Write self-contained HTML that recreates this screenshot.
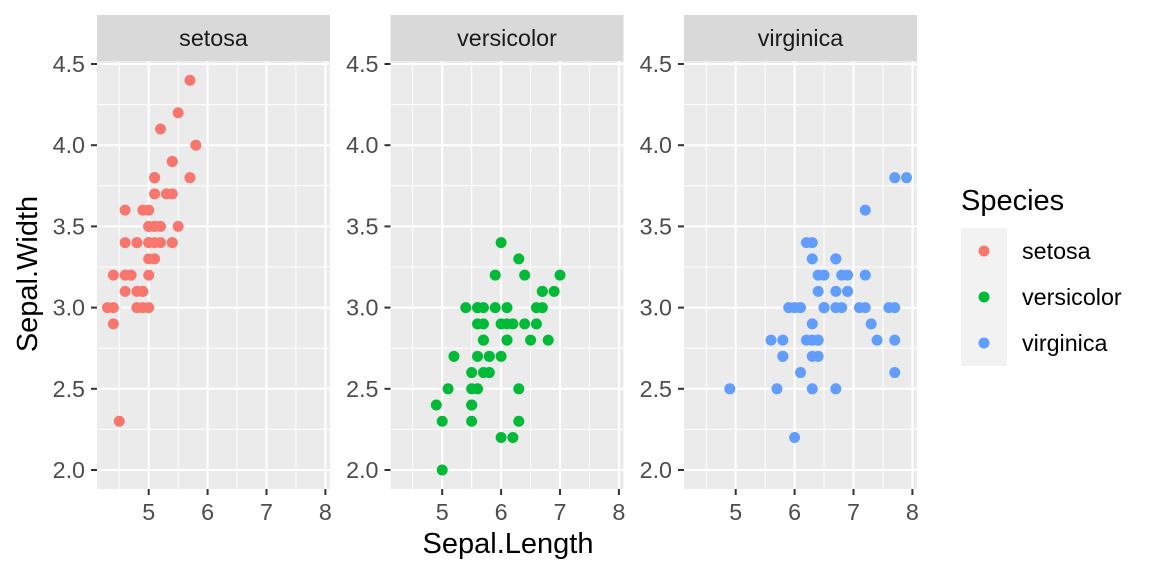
<!DOCTYPE html>
<html><head><meta charset="utf-8"><style>body{margin:0;background:#fff}svg{display:block}</style></head>
<body>
<svg id="s" width="1152" height="576" xmlns="http://www.w3.org/2000/svg" font-family="Liberation Sans, sans-serif">
<rect width="1152" height="576" fill="#fff"/>
<g id="g"></g>
<text x="508" y="553" font-size="29" text-anchor="middle" fill="#000">Sepal.Length</text>
<text transform="translate(37,274) rotate(-90)" font-size="29" text-anchor="middle" fill="#000">Sepal.Width</text>
<text x="961" y="210" font-size="29" fill="#000">Species</text>
<rect x="961" y="228" width="46" height="46" fill="#f2f2f2"/>
<rect x="961" y="274" width="46" height="46" fill="#f2f2f2"/>
<rect x="961" y="320" width="46" height="46" fill="#f2f2f2"/>
<circle cx="984" cy="251" r="5.5" fill="#F8766D"/>
<circle cx="984" cy="297" r="5.5" fill="#00BA38"/>
<circle cx="984" cy="343" r="5.5" fill="#619CFF"/>
<text x="1022" y="259" font-size="23.3" fill="#000">setosa</text>
<text x="1022" y="305" font-size="23.3" fill="#000">versicolor</text>
<text x="1022" y="351" font-size="23.3" fill="#000">virginica</text>
</svg>
<script>
var D=[
"5.1 3.5,4.9 3.0,4.7 3.2,4.6 3.1,5.0 3.6,5.4 3.9,4.6 3.4,5.0 3.4,4.4 2.9,4.9 3.1,5.4 3.7,4.8 3.4,4.8 3.0,4.3 3.0,5.8 4.0,5.7 4.4,5.4 3.9,5.1 3.5,5.7 3.8,5.1 3.8,5.4 3.4,5.1 3.7,4.6 3.6,5.1 3.3,4.8 3.4,5.0 3.0,5.0 3.4,5.2 3.5,5.2 3.4,4.7 3.2,4.8 3.1,5.4 3.4,5.2 4.1,5.5 4.2,4.9 3.1,5.0 3.2,5.5 3.5,4.9 3.6,4.4 3.0,5.1 3.4,5.0 3.5,4.5 2.3,4.4 3.2,5.0 3.5,5.1 3.8,4.8 3.0,5.1 3.8,4.6 3.2,5.3 3.7,5.0 3.3",
"7.0 3.2,6.4 3.2,6.9 3.1,5.5 2.3,6.5 2.8,5.7 2.8,6.3 3.3,4.9 2.4,6.6 2.9,5.2 2.7,5.0 2.0,5.9 3.0,6.0 2.2,6.1 2.9,5.6 2.9,6.7 3.1,5.6 3.0,5.8 2.7,6.2 2.2,5.6 2.5,5.9 3.2,6.1 2.8,6.3 2.5,6.1 2.8,6.4 2.9,6.6 3.0,6.8 2.8,6.7 3.0,6.0 2.9,5.7 2.6,5.5 2.4,5.5 2.4,5.8 2.7,6.0 2.7,5.4 3.0,6.0 3.4,6.7 3.1,6.3 2.3,5.6 3.0,5.5 2.5,5.5 2.6,6.1 3.0,5.8 2.6,5.0 2.3,5.6 2.7,5.7 3.0,5.7 2.9,6.2 2.9,5.1 2.5,5.7 2.8",
"6.3 3.3,5.8 2.7,7.1 3.0,6.3 2.9,6.5 3.0,7.6 3.0,4.9 2.5,7.3 2.9,6.7 2.5,7.2 3.6,6.5 3.2,6.4 2.7,6.8 3.0,5.7 2.5,5.8 2.8,6.4 3.2,6.5 3.0,7.7 3.8,7.7 2.6,6.0 2.2,6.9 3.2,5.6 2.8,7.7 2.8,6.3 2.7,6.7 3.3,7.2 3.2,6.2 2.8,6.1 3.0,6.4 2.8,7.2 3.0,7.4 2.8,7.9 3.8,6.4 2.8,6.3 2.8,6.1 2.6,7.7 3.0,6.3 3.4,6.4 3.1,6.0 3.0,6.9 3.1,6.7 3.1,6.9 3.1,5.8 2.7,6.8 3.2,6.7 3.3,6.7 3.0,6.3 2.5,6.5 3.0,6.2 3.4,5.9 3.0"];
var names=["setosa","versicolor","virginica"],cols=["#F8766D","#00BA38","#619CFF"],offs=[0,293.5,587];
var h="";
function Y(v){return 470-(v-2)*162.4;}
for(var p=0;p<3;p++){
 var o=offs[p];function X(v){return 148.7+o+(v-5)*58.9;}
 var L=97+o,R=330+o;
 h+='<rect x="'+L+'" y="61" width="'+(R-L)+'" height="428" fill="#ebebeb"/>';
 h+='<rect x="'+L+'" y="15" width="'+(R-L)+'" height="46" fill="#d9d9d9"/>';
 h+='<text x="'+((L+R)/2)+'" y="46" font-size="23.3" text-anchor="middle" fill="#1a1a1a">'+names[p]+'</text>';
 for(var v=2.25;v<4.6;v+=0.5)h+='<line x1="'+L+'" x2="'+R+'" y1="'+Y(v)+'" y2="'+Y(v)+'" stroke="#fff" stroke-width="1"/>';
 for(var v=4.5;v<8;v+=1)h+='<line y1="61" y2="489" x1="'+X(v)+'" x2="'+X(v)+'" stroke="#fff" stroke-width="1"/>';
 for(var i=0;i<6;i++){var v=2+i*0.5,y=Y(v);
  h+='<line x1="'+L+'" x2="'+R+'" y1="'+y+'" y2="'+y+'" stroke="#fff" stroke-width="2"/>';
  h+='<line x1="'+(L-6)+'" x2="'+L+'" y1="'+y+'" y2="'+y+'" stroke="#333" stroke-width="2"/>';
  h+='<text x="'+(L-12)+'" y="'+(y+8)+'" font-size="23.3" text-anchor="end" fill="#4d4d4d">'+v.toFixed(1)+'</text>';}
 for(var v=5;v<=8;v++){var x=X(v);
  h+='<line y1="61" y2="489" x1="'+x+'" x2="'+x+'" stroke="#fff" stroke-width="2"/>';
  h+='<line y1="489" y2="495" x1="'+x+'" x2="'+x+'" stroke="#333" stroke-width="2"/>';
  h+='<text x="'+x+'" y="520" font-size="23.3" text-anchor="middle" fill="#4d4d4d">'+v+'</text>';}
 D[p].split(",").forEach(function(s){var a=s.split(" ");h+='<circle cx="'+X(+a[0])+'" cy="'+Y(+a[1])+'" r="5.5" fill="'+cols[p]+'"/>';});
}
document.getElementById("g").innerHTML=h;
</script>
</body></html>
